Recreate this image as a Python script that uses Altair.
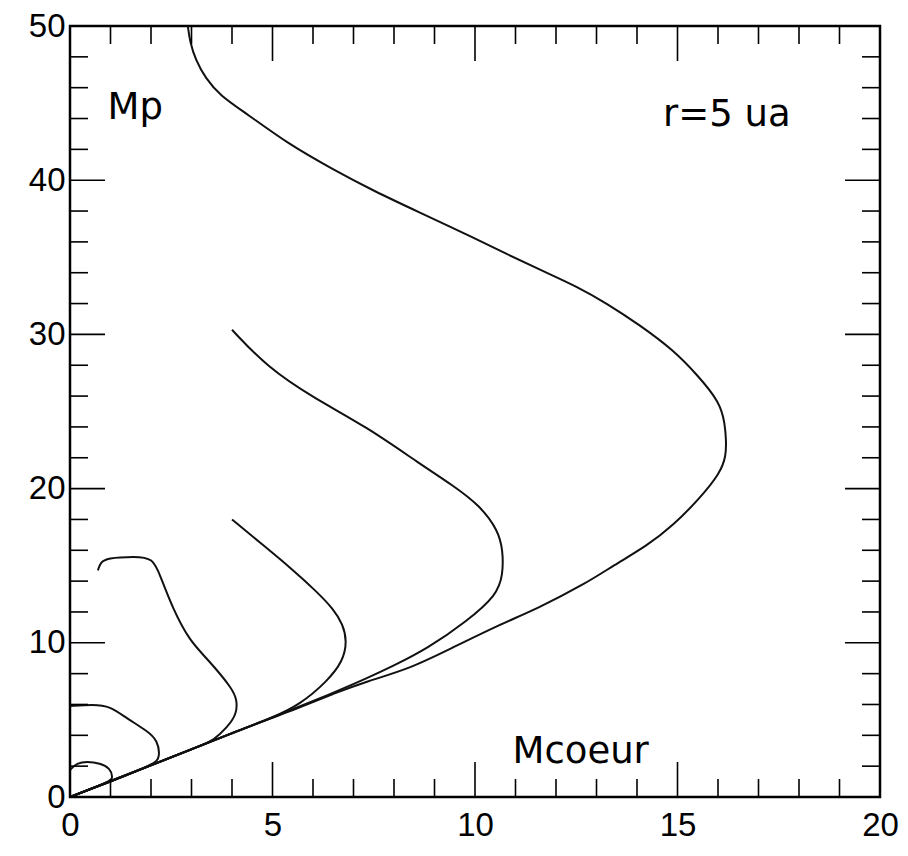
import altair as alt
import pandas as pd

# ---- data (Mcoeur = x, Mp = y) ----
curve_a_x = [0, 1, 2, 3, 4, 5, 5.68, 6.5, 7.33, 8.4, 9.38, 10.62, 11.53, 12.77, 13.41, 14.25, 14.89, 15.56, 16.05, 16.2, 16.2, 16.17, 16.05, 15.48, 14.89, 14.07, 13.26, 12.52, 11.68, 10.79, 9.70, 8.64, 7.5, 6.49, 5.36, 4.37, 3.7, 3.35, 3.1, 2.96, 2.91]
curve_a_y = [0, 1.0, 2.05, 3.1, 4.15, 5.15, 5.8, 6.7, 7.5, 8.34, 9.6, 11.2, 12.2, 13.9, 15.0, 16.3, 17.6, 19.4, 21.0, 22.1, 23.2, 24.2, 25.6, 27.4, 29.0, 30.6, 32.0, 33.1, 34.1, 35.2, 36.6, 37.9, 39.3, 40.7, 42.4, 44.3, 45.5, 46.6, 47.8, 49.0, 50.0]

curve_b_x = [0, 3, 5, 6.5, 7.33, 7.98, 8.81, 9.8, 10.54, 10.69, 10.69, 10.57, 10.12, 9.46, 8.64, 7.33, 6.0, 4.86, 4.0]
curve_b_y = [0, 3.1, 5.15, 6.75, 7.7, 8.5, 9.6, 11.4, 13.1, 14.4, 16.0, 17.3, 18.9, 20.2, 21.6, 24.0, 25.9, 27.9, 30.3]

curve_c_x = [0, 2, 4.2, 5.0, 5.68, 6.35, 6.74, 6.84, 6.74, 6.5, 6.1, 5.43, 4.69, 4.0]
curve_c_y = [0, 2.05, 4.35, 5.15, 6.0, 7.5, 8.8, 10.1, 11.2, 12.2, 13.3, 14.9, 16.5, 18.0]

curve_d_x = [0, 2, 3.3, 3.53, 3.88, 4.12, 4.12, 4.02, 3.38, 2.96, 2.54, 2.22, 2.05, 1.6, 0.91, 0.75, 0.69]
curve_d_y = [0, 2.05, 3.4, 3.66, 4.5, 5.4, 6.3, 7.0, 9.0, 10.1, 12.2, 14.4, 15.5, 15.6, 15.5, 15.2, 14.7]

curve_e_x = [0, 1, 2.1, 2.22, 2.17, 1.9, 1.4, 0.99, 0.57, 0.0]
curve_e_y = [0, 1.0, 2.15, 2.57, 3.66, 4.3, 5.1, 5.9, 6.0, 5.9]

curve_f_x = [0, 1.0, 1.06, 0.99, 0.74, 0.42, 0.17, 0.0]
curve_f_y = [0, 1.0, 1.28, 1.86, 2.2, 2.3, 2.2, 1.75]

x_major = [0, 5, 10, 15, 20]
x_minor = [v for v in range(1, 20) if v % 5 != 0]
y_major = [0, 10, 20, 30, 40, 50]
y_minor = [v for v in range(2, 50, 2) if v % 10 != 0]

x_title = "Mcoeur"
y_title = "Mp"
note = "r=5 ua"

# ---- layout constants ----
TOP = 18
W, H = 810, 797 - 8 - TOP
MAJ, MIN = 35, 18

curves = {
    "A": (curve_a_x, curve_a_y),
    "B": (curve_b_x, curve_b_y),
    "C": (curve_c_x, curve_c_y),
    "D": (curve_d_x, curve_d_y),
    "E": (curve_e_x, curve_e_y),
    "F": (curve_f_x, curve_f_y),
}
rows = []
for name, (xs, ys) in curves.items():
    for i, (xv, yv) in enumerate(zip(xs, ys)):
        rows.append({"curve": name, "i": i, "x": xv, "y": yv})
df = pd.DataFrame(rows)

xs_scale = alt.Scale(domain=[0, 20], nice=False, zero=False)
ys_scale = alt.Scale(domain=[0, 50], nice=False, zero=False)

x_axis = alt.Axis(
    values=x_major, ticks=False, tickSize=0, domain=False, grid=False,
    labelFont="Liberation Sans", labelFontSize=33, labelColor="black", labelPadding=12,
    labelFlush=False,
    title=x_title, titleX=442, titleY=-35, titleAlign="left", titleBaseline="alphabetic",
    titleAngle=0, titleFont="DejaVu Sans", titleFontSize=37, titleFontWeight="normal",
    titleColor="black",
)
y_axis = alt.Axis(
    values=y_major, ticks=False, tickSize=0, domain=False, grid=False,
    labelFont="Liberation Sans", labelFontSize=33, labelColor="black", labelPadding=5,
    labelFlush=False,
    title=y_title, titleX=37, titleY=118 - 8 - TOP, titleAlign="left", titleBaseline="alphabetic",
    titleAngle=0, titleFont="DejaVu Sans", titleFontSize=37, titleFontWeight="normal",
    titleColor="black",
)

lines = alt.Chart(df).mark_line(color="#111111", strokeWidth=2, interpolate="basis").encode(
    x=alt.X("x:Q", scale=xs_scale, axis=x_axis),
    y=alt.Y("y:Q", scale=ys_scale, axis=y_axis),
    detail="curve:N",
    order="i:Q",
)

def xticks(vals, length):
    d = pd.DataFrame({"v": vals})
    bottom = alt.Chart(d).mark_rule(color="black", strokeWidth=1.6).encode(
        x=alt.X("v:Q", scale=xs_scale, axis=x_axis), y=alt.value(H), y2=alt.value(H - length))
    top = alt.Chart(d).mark_rule(color="black", strokeWidth=1.6).encode(
        x=alt.X("v:Q", scale=xs_scale, axis=x_axis), y=alt.value(0), y2=alt.value(length))
    return [bottom, top]

def yticks(vals, length):
    d = pd.DataFrame({"v": vals})
    left = alt.Chart(d).mark_rule(color="black", strokeWidth=1.6).encode(
        y=alt.Y("v:Q", scale=ys_scale, axis=y_axis), x=alt.value(0), x2=alt.value(length))
    right = alt.Chart(d).mark_rule(color="black", strokeWidth=1.6).encode(
        y=alt.Y("v:Q", scale=ys_scale, axis=y_axis), x=alt.value(W), x2=alt.value(W - length))
    return [left, right]

note_layer = alt.Chart(pd.DataFrame({"t": [note]})).mark_text(
    align="left", baseline="alphabetic", font="DejaVu Sans", fontSize=37, color="black"
).encode(x=alt.value(593), y=alt.value(126 - 8 - TOP), text="t:N")

layers = [lines] + xticks(x_major, MAJ) + xticks(x_minor, MIN) + yticks(y_major, MAJ) + yticks(y_minor, MIN) + [note_layer]

chart = alt.layer(*layers).properties(
    width=W, height=H,
    padding={"left": 62, "top": TOP, "right": 20, "bottom": 45},
    autosize=alt.AutoSizeParams(type="none"),
    background="white",
).configure_view(stroke="black", strokeWidth=2.5)

chart.save("out.html", embed_options={"renderer": "svg", "actions": False})
